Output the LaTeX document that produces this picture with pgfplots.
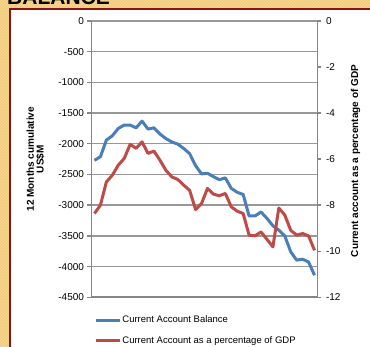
\documentclass[border=0pt]{standalone}
\usepackage{fontspec}
\setmainfont{Liberation Sans}
\usepackage{pgfplots}
\pgfplotsset{compat=1.18}
\usetikzlibrary{patterns}

\definecolor{cablue}{RGB}{74,126,187}
\definecolor{cared}{RGB}{190,75,72}
\definecolor{axisgray}{RGB}{134,134,134}
\definecolor{gridgray}{RGB}{152,152,152}
\definecolor{gold}{RGB}{242,204,124}
\definecolor{goldlight}{RGB}{247,218,155}
\definecolor{framered}{RGB}{140,20,20}

\pgfplotsset{
  chartbase/.style={
    at={(91.5pt,49.7pt)}, anchor=south west,
    width=226pt, height=276.3pt, scale only axis,
    xmin=-0.5, xmax=37.5,
    xtick=\empty,
    axis line style={axisgray, line width=1.6pt},
    tick style={axisgray, line width=1.4pt},
    tick align=outside, major tick length=4pt,
    yticklabel style={font=\fontsize{10}{12}\selectfont, text=black},
  },
}

\begin{document}
\begin{tikzpicture}
\useasboundingbox (0,0) rectangle (370pt,347pt);
\clip (0,0) rectangle (370pt,347pt);
% slide background and frame
\fill[gold] (0,0) rectangle (370pt,347pt);
\fill[pattern=north east lines, pattern color=goldlight] (0,0) rectangle (370pt,347pt);
\node[anchor=base west, inner sep=0pt, font=\bfseries\fontsize{21}{21}\selectfont] at (7pt,342.5pt) {BALANCE};
\fill[white] (10pt,0pt) rectangle (370pt,338pt);
\draw[framered, line width=2pt] (10pt,0pt) -- (10pt,338pt) -- (370pt,338pt);

% cumulative balance, left scale
\begin{axis}[
  chartbase,
  ymin=-4500, ymax=0,
  axis x line*=bottom, axis y line*=left,
  ytick={-4500,-4000,-3500,-3000,-2500,-2000,-1500,-1000,-500,0},
  yticklabels={-4500,-4000,-3500,-3000,-2500,-2000,-1500,-1000,-500,0},
  ymajorgrids, grid style={gridgray, line width=1.4pt},
  ylabel={12 Months cumulative\\US\$M},
  every axis y label/.style={at={(axis description cs:-0.248,0.5)}, anchor=center, rotate=90,
    align=center, font=\bfseries\fontsize{10}{9.8}\selectfont},
  legend style={at={(0.012,-0.063)}, anchor=north west, draw=none, fill=none,
    inner sep=0pt, row sep=9.5pt, font=\fontsize{9.5}{11}\selectfont,
    nodes={inner sep=1pt, text height=7pt, text depth=2pt}},
  legend cell align=left,
  legend image code/.code={\draw[#1] (0pt,0pt) -- (24pt,0pt);},
]
\addplot[cablue, line width=3pt, line join=round] coordinates {
  (0,-2270) (1,-2210) (2,-1940) (3,-1870) (4,-1750) (5,-1695) (6,-1695) (7,-1740)
  (8,-1630) (9,-1760) (10,-1740) (11,-1840) (12,-1915) (13,-1970) (14,-2005)
  (15,-2075) (16,-2160) (17,-2356) (18,-2490) (19,-2480) (20,-2535) (21,-2585)
  (22,-2555) (23,-2725) (24,-2790) (25,-2825) (26,-3175) (27,-3175) (28,-3110)
  (29,-3215) (30,-3335) (31,-3405) (32,-3500) (33,-3760) (34,-3895) (35,-3880)
  (36,-3925) (37,-4140)
};
\addlegendentry{Current Account Balance}
\addlegendimage{cared, line width=3pt}
\addlegendentry{Current Account as a percentage of GDP}
\end{axis}

% share of GDP, right scale
\begin{axis}[
  chartbase,
  ymin=-12, ymax=0,
  axis x line=none, axis y line*=right,
  ytick={-12,-10,-8,-6,-4,-2,0},
  yticklabels={-12,-10,-8,-6,-4,-2,0},
  yticklabel style={xshift=1pt},
  ylabel={Current account as a percentage of GDP},
  every axis y label/.style={at={(axis description cs:1.168,0.493)}, anchor=center, rotate=90,
    font=\bfseries\fontsize{10}{12}\selectfont},
]
\addplot[cared, line width=3pt, line join=round] coordinates {
  (0,-8.36) (1,-8.00) (2,-6.99) (3,-6.70) (4,-6.26) (5,-5.97) (6,-5.36) (7,-5.53)
  (8,-5.25) (9,-5.75) (10,-5.65) (11,-6.04) (12,-6.48) (13,-6.77) (14,-6.88)
  (15,-7.13) (16,-7.35) (17,-8.19) (18,-7.93) (19,-7.27) (20,-7.52) (21,-7.59)
  (22,-7.49) (23,-8.07) (24,-8.26) (25,-8.36) (26,-9.30) (27,-9.33) (28,-9.16)
  (29,-9.48) (30,-9.81) (31,-8.12) (32,-8.43) (33,-9.09) (34,-9.30) (35,-9.23)
  (36,-9.33) (37,-9.96)
};
\end{axis}
\end{tikzpicture}
\end{document}
